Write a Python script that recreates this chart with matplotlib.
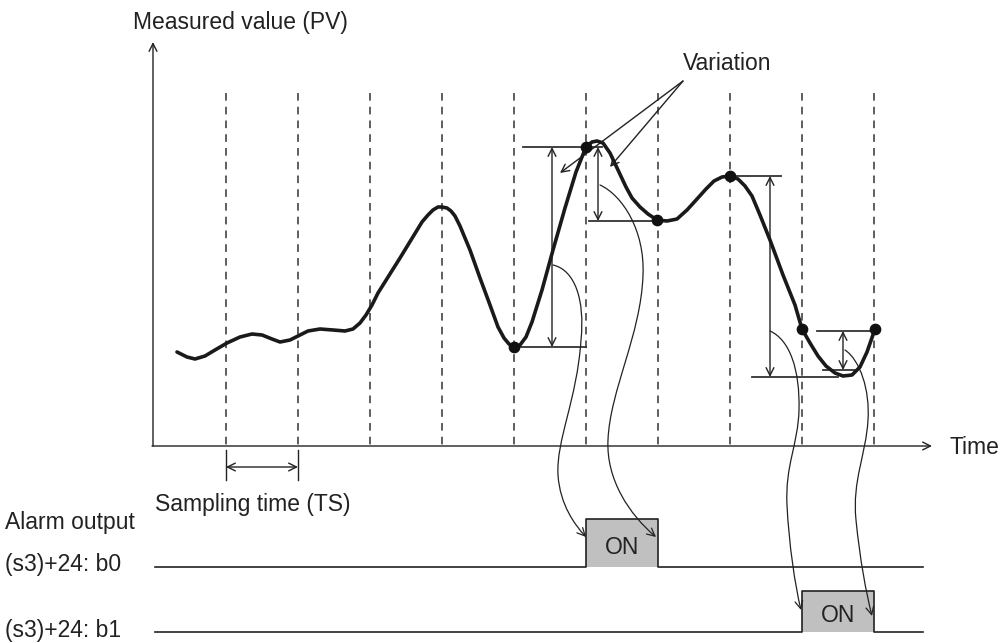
import matplotlib
matplotlib.use("Agg")
import matplotlib.pyplot as plt
from matplotlib.path import Path
from matplotlib.patches import FancyArrowPatch, Rectangle

plt.rcParams['font.family'] = ['Liberation Sans', 'DejaVu Sans']

# sampling instants (pixel x) and measured value curve (pixel coords, y down)
sample_x = [226, 298, 370, 442, 514, 586, 658, 730, 802, 874]
pv_x = [177, 187, 195, 205, 215, 227, 240, 252, 262, 272, 280, 290, 298, 308,
        320, 333, 345, 353, 360, 366, 372, 378, 400, 422, 428, 433, 438, 442,
        447, 451, 455, 460, 470, 480, 490, 498, 504, 509, 514, 520, 526, 532,
        542, 553, 565, 576, 586, 592, 597, 603, 610, 618, 626, 632, 640, 648,
        657, 667, 677, 687, 697, 706, 714, 722, 730, 738, 745, 752, 760, 770,
        783, 795, 802, 810, 818, 826, 835, 843, 852, 860, 867, 875]
pv_y = [352, 357, 359, 356, 350, 343, 337, 334, 335, 339, 342, 340, 336, 331,
        329, 330, 331, 329, 323, 315, 305, 293, 258, 222, 215, 210, 207, 207,
        208, 211, 216, 226, 250, 278, 305, 327, 338, 344, 347, 345, 337, 322,
        290, 250, 208, 172, 147, 142, 141, 143, 153, 170, 187, 198, 207, 214,
        220, 221, 219, 210, 199, 189, 181, 177, 176, 179, 186, 196, 215, 240,
        275, 305, 329, 343, 356, 366, 373, 376, 375, 367, 352, 329]
dot_x = [514, 586, 657, 730, 802, 875]
dot_y = [347, 147, 220, 176, 329, 329]

# variation markers: (x of arrow, y top, y bottom)
var_x = [552, 598, 770, 843]
var_top = [147, 147, 176, 331]
var_bot = [347, 221, 377, 370]
# horizontal reference lines: (x0, x1, y)
ref_x0 = [514, 523, 589, 730, 752, 817, 823]
ref_x1 = [586, 602, 657, 781, 838, 875, 855]
ref_y = [347, 147, 221, 176, 377, 331, 370]

# alarm outputs
alarm_labels = ["(s3)+24: b0", "(s3)+24: b1"]
alarm_base = [567, 632]
alarm_on_start = [586, 802]
alarm_on_end = [658, 874]
alarm_high = [519, 591]

# curved arrows linking variations to alarm edges (cubic bezier chains)
links = [
    [(553, 265), (575, 270), (585, 300), (581, 340), (577, 400), (556, 440),
     (558, 475), (560, 505), (575, 525), (586, 537)],
    [(600, 185), (622, 195), (645, 230), (643, 275), (641, 335), (610, 390),
     (608, 440), (606, 480), (630, 515), (656, 537)],
    [(770, 331), (790, 340), (800, 370), (799, 410), (798, 445), (785, 465),
     (787, 505), (789, 545), (795, 585), (801, 610)],
    [(845, 350), (860, 360), (870, 390), (868, 420), (866, 455), (852, 480),
     (856, 520), (860, 560), (866, 592), (872, 616)],
]

fig = plt.figure(figsize=(10.07, 6.43), dpi=100)
ax = fig.add_axes([0, 0, 1, 1])
ax.set_xlim(0, 1007)
ax.set_ylim(643, 0)
ax.axis('off')

ink = '#222222'
fs = 16.5
thin = dict(arrowstyle='->', color=ink, lw=1.0, mutation_scale=14,
            shrinkA=0, shrinkB=0)
both = dict(arrowstyle='<->', color=ink, lw=1.0, mutation_scale=14,
            shrinkA=0, shrinkB=0)

# axes
ax.annotate('', xy=(153, 42), xytext=(153, 446), arrowprops=thin)
ax.annotate('', xy=(932, 446), xytext=(152, 446), arrowprops=thin)
ax.text(133, 23, "Measured value (PV)", fontsize=fs, va='center', ha='left', color=ink)
ax.text(950, 447, "Time", fontsize=fs, va='center', ha='left', color=ink)

# sampling grid
for x in sample_x:
    ax.plot([x, x], [93, 446], color='#333333', lw=1.1, ls=(0, (5, 4)))

# sampling time marker
for x in sample_x[:2]:
    ax.plot([x, x], [450, 480], color=ink, lw=1.0)
ax.annotate('', xy=(sample_x[0], 467), xytext=(sample_x[1], 467), arrowprops=both)
ax.text(155, 505, "Sampling time (TS)", fontsize=fs, va='center', ha='left', color=ink)

# reference lines and variation arrows
for x0, x1, y in zip(ref_x0, ref_x1, ref_y):
    ax.plot([x0, x1], [y, y], color='#333333', lw=1.3)
for x, yt, yb in zip(var_x, var_top, var_bot):
    ax.annotate('', xy=(x, yt), xytext=(x, yb), arrowprops=both)

# measured value curve
ax.plot(pv_x, pv_y, color='#1a1a1a', lw=2.6, solid_joinstyle='round',
        solid_capstyle='round', zorder=5)
ax.scatter(dot_x, dot_y, s=55, color='#111111', zorder=6)

# "Variation" callout
ax.text(683, 63, "Variation", fontsize=fs, va='center', ha='left', color=ink)
ax.annotate('', xy=(560, 173), xytext=(683, 81), arrowprops=thin)
ax.annotate('', xy=(610, 167), xytext=(683, 81), arrowprops=thin)

# curved links
for pts in links:
    codes = [Path.MOVETO] + [Path.CURVE4] * (len(pts) - 1)
    arr = FancyArrowPatch(path=Path(pts, codes), arrowstyle='->',
                          mutation_scale=14, color=ink, lw=0.9, zorder=4)
    ax.add_patch(arr)

# alarm output timing
ax.text(5, 523, "Alarm output", fontsize=fs, va='center', ha='left', color=ink)
for lab, yb, xs, xe, yh in zip(alarm_labels, alarm_base, alarm_on_start,
                               alarm_on_end, alarm_high):
    ax.text(5, yb - 2, lab, fontsize=fs, va='center', ha='left', color=ink)
    ax.add_patch(Rectangle((xs, yh), xe - xs, yb - yh, facecolor='#c0c0c0',
                           edgecolor='none', zorder=2))
    ax.plot([155, xs, xs, xe, xe, 923], [yb, yb, yh, yh, yb, yb],
            color=ink, lw=1.2, zorder=3)
    ax.text((xs + xe) / 2, (yh + yb) / 2 + 4, "ON", fontsize=fs,
            va='center', ha='center', color=ink)

fig.savefig("out.png", dpi=100)
